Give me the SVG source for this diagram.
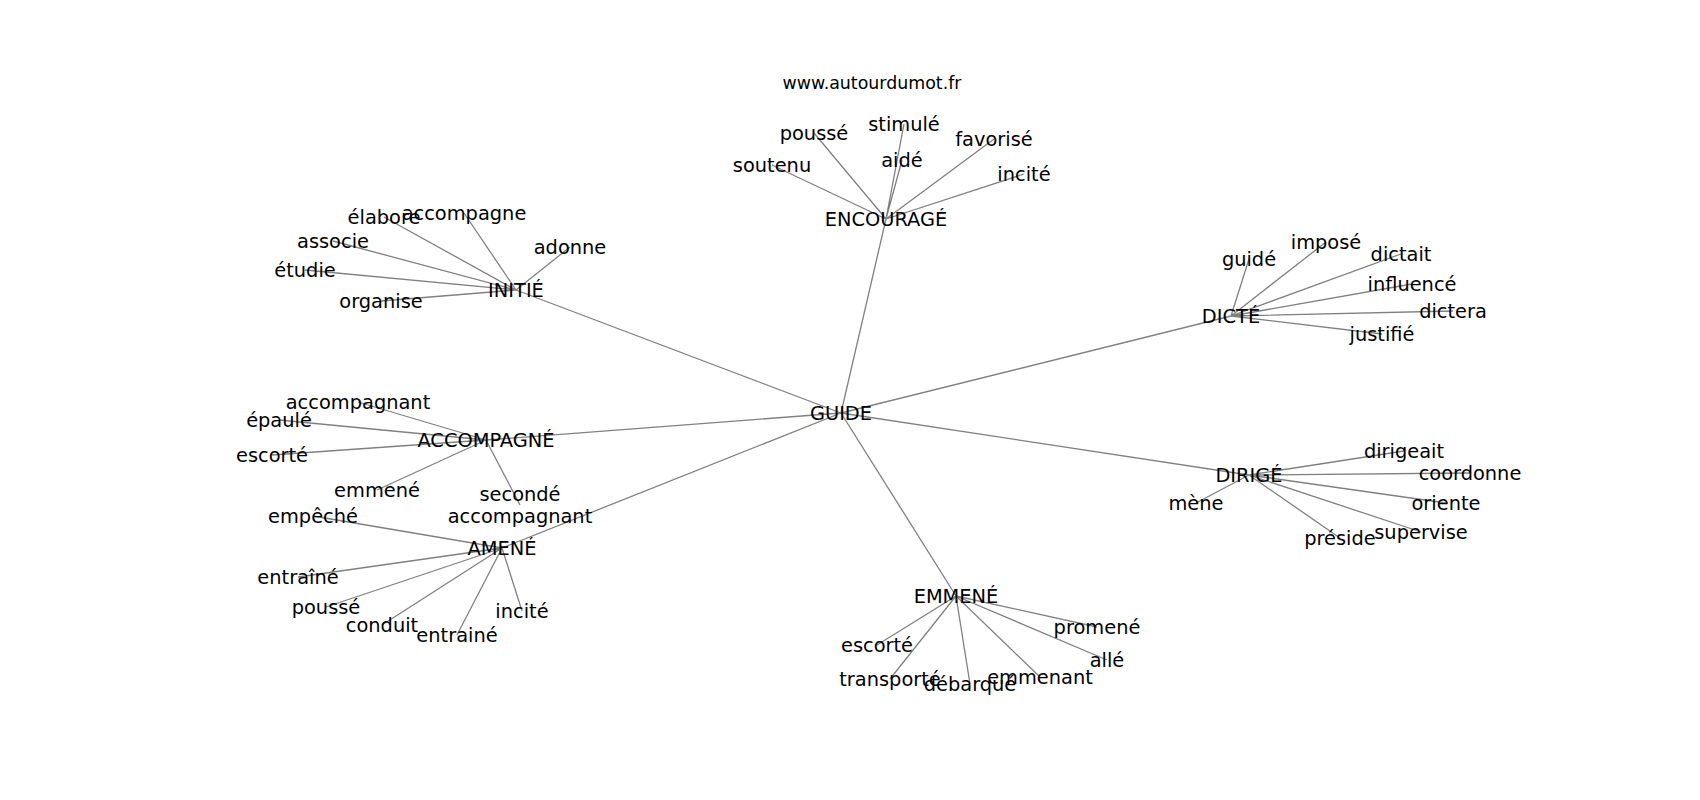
<svg xmlns="http://www.w3.org/2000/svg" width="1700" height="800" viewBox="0 0 1700 800">
<style>
.e{stroke:#808080;stroke-width:1.3;fill:none}
text{font-family:"DejaVu Sans","Liberation Sans",sans-serif;font-size:19.4px;fill:#000;text-anchor:middle}
.t{font-size:17.4px}
</style>
<rect width="1700" height="800" fill="#fff"/>
<g id="edges" class="e">
<path d="M841 413L886 219M841 413L516 290M841 413L1231 316M841 413L486 440M841 413L502 548M841 413L956 596M841 413L1249 475"/>
<path d="M886 219L772 165M886 219L814 133M886 219L904 124M886 219L902 160M886 219L994 139M886 219L1024 174"/>
<path d="M516 290L384 217M516 290L464 213M516 290L333 241M516 290L305 270M516 290L381 301M516 290L570 247"/>
<path d="M1231 316L1249 259M1231 316L1326 242M1231 316L1401 254M1231 316L1412 284M1231 316L1453 311M1231 316L1382 334"/>
<path d="M486 440L358 402M486 440L279 420M486 440L272 455M486 440L377 490M486 440L520 505"/>
<path d="M502 548L313 516M502 548L298 577M502 548L326 607M502 548L382 625M502 548L457 635M502 548L522 611"/>
<path d="M956 596L1097 627M956 596L1107 660M956 596L877 645M956 596L890 679M956 596L970 684M956 596L1040 677"/>
<path d="M1249 475L1404 451M1249 475L1470 473M1249 475L1446 503M1249 475L1196 503M1249 475L1340 538M1249 475L1421 532"/>
</g>
<text class="t" x="872" y="89">www.autourdumot.fr</text>
<g id="n-guide"><text x="841" y="419.5">GUIDE</text></g>
<g id="n-encourage"><text x="886" y="226">ENCOURAGÉ</text></g>
<g id="n-enc-soutenu"><text x="772" y="171.5">soutenu</text></g>
<g id="n-enc-pousse"><text x="814" y="139.5">poussé</text></g>
<g id="n-enc-stimule"><text x="904" y="130.5">stimulé</text></g>
<g id="n-enc-aide"><text x="902" y="166.5">aidé</text></g>
<g id="n-enc-favorise"><text x="994" y="145.5">favorisé</text></g>
<g id="n-enc-incite"><text x="1024" y="180.5">incité</text></g>
<g id="n-initie"><text x="516" y="297">INITIÉ</text></g>
<g id="n-ini-elabore"><text x="384" y="223.5">élabore</text></g>
<g id="n-ini-accompagne"><text x="464" y="219.5">accompagne</text></g>
<g id="n-ini-associe"><text x="333" y="247.5">associe</text></g>
<g id="n-ini-etudie"><text x="305" y="276.5">étudie</text></g>
<g id="n-ini-organise"><text x="381" y="307.5">organise</text></g>
<g id="n-ini-adonne"><text x="570" y="253.5">adonne</text></g>
<g id="n-dicte"><text x="1231" y="323">DICTÉ</text></g>
<g id="n-dic-guide"><text x="1249" y="265.5">guidé</text></g>
<g id="n-dic-impose"><text x="1326" y="248.5">imposé</text></g>
<g id="n-dic-dictait"><text x="1401" y="260.5">dictait</text></g>
<g id="n-dic-influence"><text x="1412" y="290.5">influencé</text></g>
<g id="n-dic-dictera"><text x="1453" y="317.5">dictera</text></g>
<g id="n-dic-justifie"><text x="1382" y="340.5">justifié</text></g>
<g id="n-accompagne"><text x="486" y="447">ACCOMPAGNÉ</text></g>
<g id="n-acc-accompagnant"><text x="358" y="408.5">accompagnant</text></g>
<g id="n-acc-epaule"><text x="279" y="426.5">épaulé</text></g>
<g id="n-acc-escorte"><text x="272" y="461.5">escorté</text></g>
<g id="n-acc-emmene"><text x="377" y="496.5">emmené</text></g>
<g id="n-acc-seconde"><text x="520" y="501"><tspan x="520" y="501">secondé</tspan><tspan x="520" y="523">accompagnant</tspan></text></g>
<g id="n-amene"><text x="502" y="555">AMENÉ</text></g>
<g id="n-ame-empeche"><text x="313" y="522.5">empêché</text></g>
<g id="n-ame-entraine1"><text x="298" y="583.5">entraîné</text></g>
<g id="n-ame-pousse"><text x="326" y="613.5">poussé</text></g>
<g id="n-ame-conduit"><text x="382" y="631.5">conduit</text></g>
<g id="n-ame-entraine2"><text x="457" y="641.5">entrainé</text></g>
<g id="n-ame-incite"><text x="522" y="617.5">incité</text></g>
<g id="n-emmene"><text x="956" y="603">EMMENÉ</text></g>
<g id="n-emm-promene"><text x="1097" y="633.5">promené</text></g>
<g id="n-emm-alle"><text x="1107" y="666.5">allé</text></g>
<g id="n-emm-escorte"><text x="877" y="651.5">escorté</text></g>
<g id="n-emm-transporte"><text x="890" y="685.5">transporté</text></g>
<g id="n-emm-debarque"><text x="970" y="690.5">débarqué</text></g>
<g id="n-emm-emmenant"><text x="1040" y="683.5">emmenant</text></g>
<g id="n-dirige"><text x="1249" y="482">DIRIGÉ</text></g>
<g id="n-dir-dirigeait"><text x="1404" y="457.5">dirigeait</text></g>
<g id="n-dir-coordonne"><text x="1470" y="479.5">coordonne</text></g>
<g id="n-dir-oriente"><text x="1446" y="509.5">oriente</text></g>
<g id="n-dir-mene"><text x="1196" y="509.5">mène</text></g>
<g id="n-dir-preside"><text x="1340" y="544.5">préside</text></g>
<g id="n-dir-supervise"><text x="1421" y="538.5">supervise</text></g>
</svg>
